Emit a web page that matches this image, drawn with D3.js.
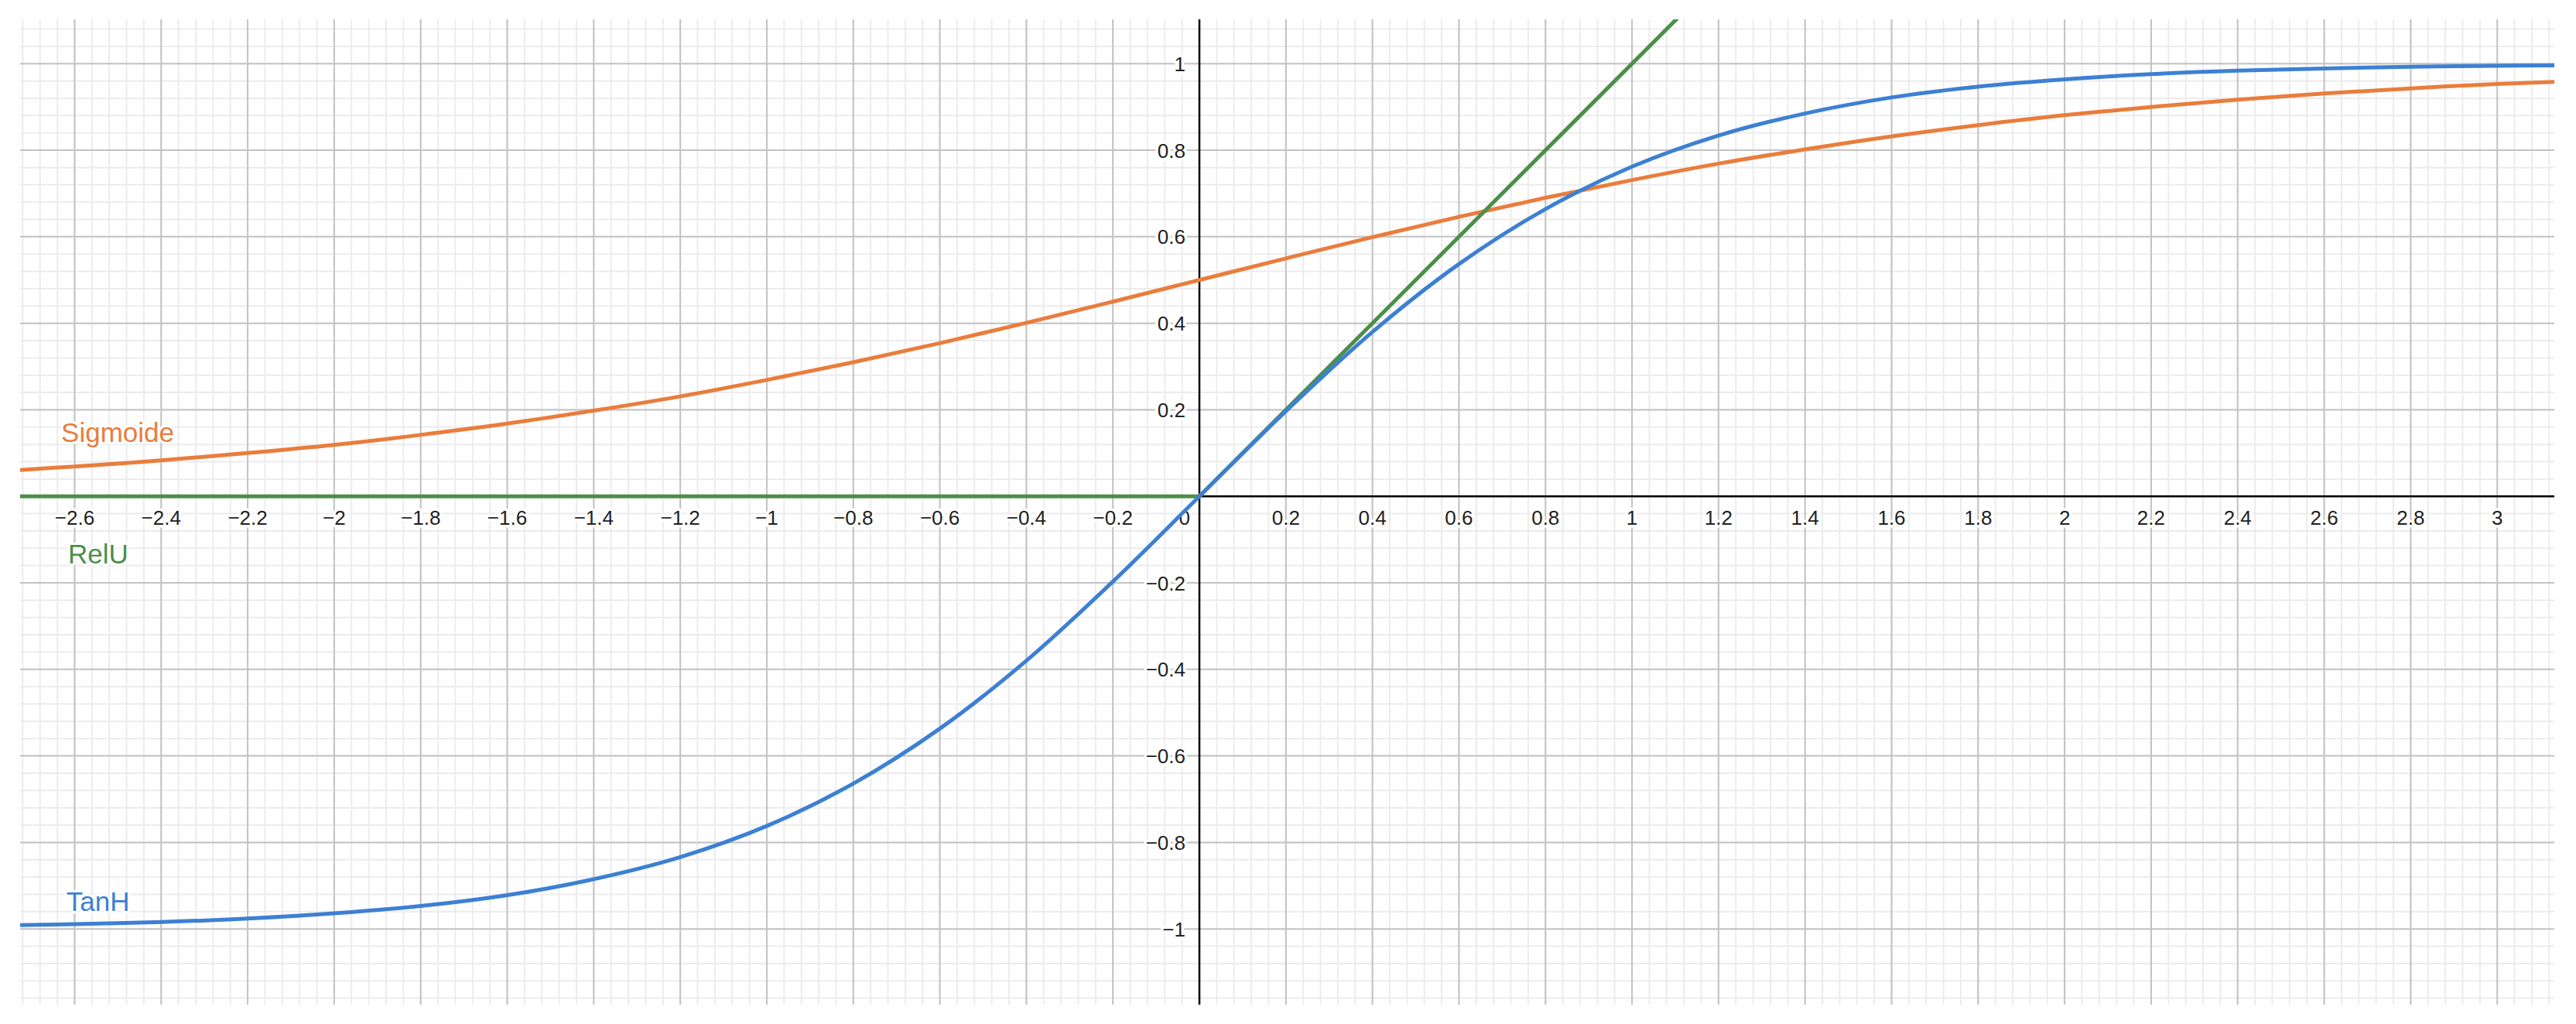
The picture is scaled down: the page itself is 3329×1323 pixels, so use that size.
<!DOCTYPE html>
<html>
<head>
<meta charset="utf-8">
<script src="https://cdn.jsdelivr.net/npm/d3@7"></script>
<style>
  html, body { margin: 0; padding: 0; background: #fff; }
  svg { display: block; }
</style>
</head>
<body>
<svg id="chart" width="3329" height="1323"></svg>
<script>
// ---- data ----
const xSamples = [-2.726, -2.6, -2.4, -2.2, -2.0, -1.8, -1.6, -1.4, -1.2, -1.0, -0.8, -0.6, -0.4, -0.2,
  0, 0.2, 0.4, 0.6, 0.8, 1.0, 1.2, 1.4, 1.6, 1.8, 2.0, 2.2, 2.4, 2.6, 2.8, 3.0, 3.132];
const sigmoidValues = [0.061, 0.069, 0.083, 0.100, 0.119, 0.142, 0.168, 0.198, 0.231, 0.269, 0.310, 0.354, 0.401, 0.450,
  0.500, 0.550, 0.599, 0.646, 0.690, 0.731, 0.769, 0.802, 0.832, 0.858, 0.881, 0.900, 0.917, 0.931, 0.943, 0.953, 0.958];
const tanhValues = [-0.991, -0.989, -0.984, -0.976, -0.964, -0.947, -0.922, -0.885, -0.834, -0.762, -0.664, -0.537, -0.380, -0.197,
  0.000, 0.197, 0.380, 0.537, 0.664, 0.762, 0.834, 0.885, 0.922, 0.947, 0.964, 0.976, 0.984, 0.989, 0.993, 0.995, 0.996];
const reluX = [-2.726, 0, 3.132];
const reluValues = [0, 0, 3.132];

const seriesNames = ["Sigmoide", "RelU", "TanH"];
const xTickLabels = ["−2.6","−2.4","−2.2","−2","−1.8","−1.6","−1.4","−1.2","−1","−0.8","−0.6","−0.4","−0.2",
  "0.2","0.4","0.6","0.8","1","1.2","1.4","1.6","1.8","2","2.2","2.4","2.6","2.8","3"];
const xTickValues = [-2.6,-2.4,-2.2,-2,-1.8,-1.6,-1.4,-1.2,-1,-0.8,-0.6,-0.4,-0.2,
  0.2,0.4,0.6,0.8,1,1.2,1.4,1.6,1.8,2,2.2,2.4,2.6,2.8,3];
const yTickLabels = ["−1","−0.8","−0.6","−0.4","−0.2","0.2","0.4","0.6","0.8","1"];
const yTickValues = [-1,-0.8,-0.6,-0.4,-0.2,0.2,0.4,0.6,0.8,1];

// ---- layout ----
const plot = { left: 26, right: 3301, top: 25, bottom: 1298 };
const xDomain = [-2.726, 3.132];
const yDomain = [-1.175, 1.1025];
const colors = { sig: "#e97d3c", relu: "#4b8f4a", tanh: "#3d80d3" };

const svg = d3.select("#chart");
const x = d3.scaleLinear().domain(xDomain).range([plot.left, plot.right]);
const y = d3.scaleLinear().domain(yDomain).range([plot.bottom, plot.top]);

svg.append("defs").append("clipPath").attr("id", "clip")
  .append("rect").attr("x", plot.left).attr("y", plot.top)
  .attr("width", plot.right - plot.left).attr("height", plot.bottom - plot.top);

const grid = svg.append("g");
const stepsIn = (dom, step) => d3.range(Math.ceil(dom[0] / step - 1e-9), Math.floor(dom[1] / step + 1e-9) + 1).map(i => i * step);

// minor grid
grid.selectAll(".mx").data(stepsIn(xDomain, 0.04)).join("line")
  .attr("x1", d => x(d)).attr("x2", d => x(d)).attr("y1", plot.top).attr("y2", plot.bottom)
  .attr("stroke", "#ececec").attr("stroke-width", 2);
grid.selectAll(".my").data(stepsIn(yDomain, 0.04)).join("line")
  .attr("y1", d => y(d)).attr("y2", d => y(d)).attr("x1", plot.left).attr("x2", plot.right)
  .attr("stroke", "#ececec").attr("stroke-width", 2);
// major grid
const g2 = svg.append("g");
g2.selectAll("line.vx").data(stepsIn(xDomain, 0.2)).join("line")
  .attr("x1", d => x(d)).attr("x2", d => x(d)).attr("y1", plot.top).attr("y2", plot.bottom)
  .attr("stroke", "#c3c3c3").attr("stroke-width", 2);
const g3 = svg.append("g");
g3.selectAll("line").data(stepsIn(yDomain, 0.2)).join("line")
  .attr("y1", d => y(d)).attr("y2", d => y(d)).attr("x1", plot.left).attr("x2", plot.right)
  .attr("stroke", "#c3c3c3").attr("stroke-width", 2);

// axes
svg.append("line").attr("x1", plot.left).attr("x2", plot.right).attr("y1", y(0)).attr("y2", y(0))
  .attr("stroke", "#000").attr("stroke-width", 2.5);
svg.append("line").attr("x1", x(0)).attr("x2", x(0)).attr("y1", plot.top).attr("y2", plot.bottom)
  .attr("stroke", "#000").attr("stroke-width", 2.5);

// tick labels
const labelStyle = sel => sel.attr("font-family", "Arial, 'Liberation Sans', sans-serif")
  .attr("font-size", 26).attr("fill", "#222")
  .attr("stroke", "#fff").attr("stroke-width", 7).attr("stroke-linejoin", "round")
  .attr("paint-order", "stroke");

svg.append("g").selectAll("text").data(xTickValues).join("text")
  .attr("x", d => x(d)).attr("y", y(0) + 37).attr("text-anchor", "middle")
  .text((d, i) => xTickLabels[i]).call(labelStyle);
svg.append("g").selectAll("text").data(yTickValues).join("text")
  .attr("x", x(0) - 18).attr("y", d => y(d) + 9.5).attr("text-anchor", "end")
  .text((d, i) => yTickLabels[i]).call(labelStyle);
svg.append("text").attr("x", x(0) - 12).attr("y", y(0) + 37).attr("text-anchor", "end").text("0").call(labelStyle);

// curves
const curves = svg.append("g").attr("clip-path", "url(#clip)");
const line = d3.line().x(d => x(d[0])).y(d => y(d[1])).curve(d3.curveCatmullRom.alpha(0.5));
const straight = d3.line().x(d => x(d[0])).y(d => y(d[1]));

curves.append("path").datum(xSamples.map((v, i) => [v, sigmoidValues[i]]))
  .attr("d", line).attr("fill", "none").attr("stroke", colors.sig).attr("stroke-width", 5);
curves.append("path").datum(reluX.map((v, i) => [v, reluValues[i]]))
  .attr("d", straight).attr("fill", "none").attr("stroke", colors.relu).attr("stroke-width", 5);
curves.append("path").datum(xSamples.map((v, i) => [v, tanhValues[i]]))
  .attr("d", line).attr("fill", "none").attr("stroke", colors.tanh).attr("stroke-width", 5);

// series labels
const seriesLabel = (txt, xv, yv, col) => svg.append("text").attr("x", x(xv)).attr("y", y(yv))
  .attr("font-family", "Arial, 'Liberation Sans', sans-serif").attr("font-size", 35)
  .attr("fill", col).attr("stroke", "#fff").attr("stroke-width", 6).attr("stroke-linejoin", "round")
  .attr("paint-order", "stroke").text(txt);
seriesLabel(seriesNames[0], -2.631, 0.126, colors.sig);
seriesLabel(seriesNames[1], -2.615, -0.155, colors.relu);
seriesLabel(seriesNames[2], -2.619, -0.958, colors.tanh);
</script>
</body>
</html>
